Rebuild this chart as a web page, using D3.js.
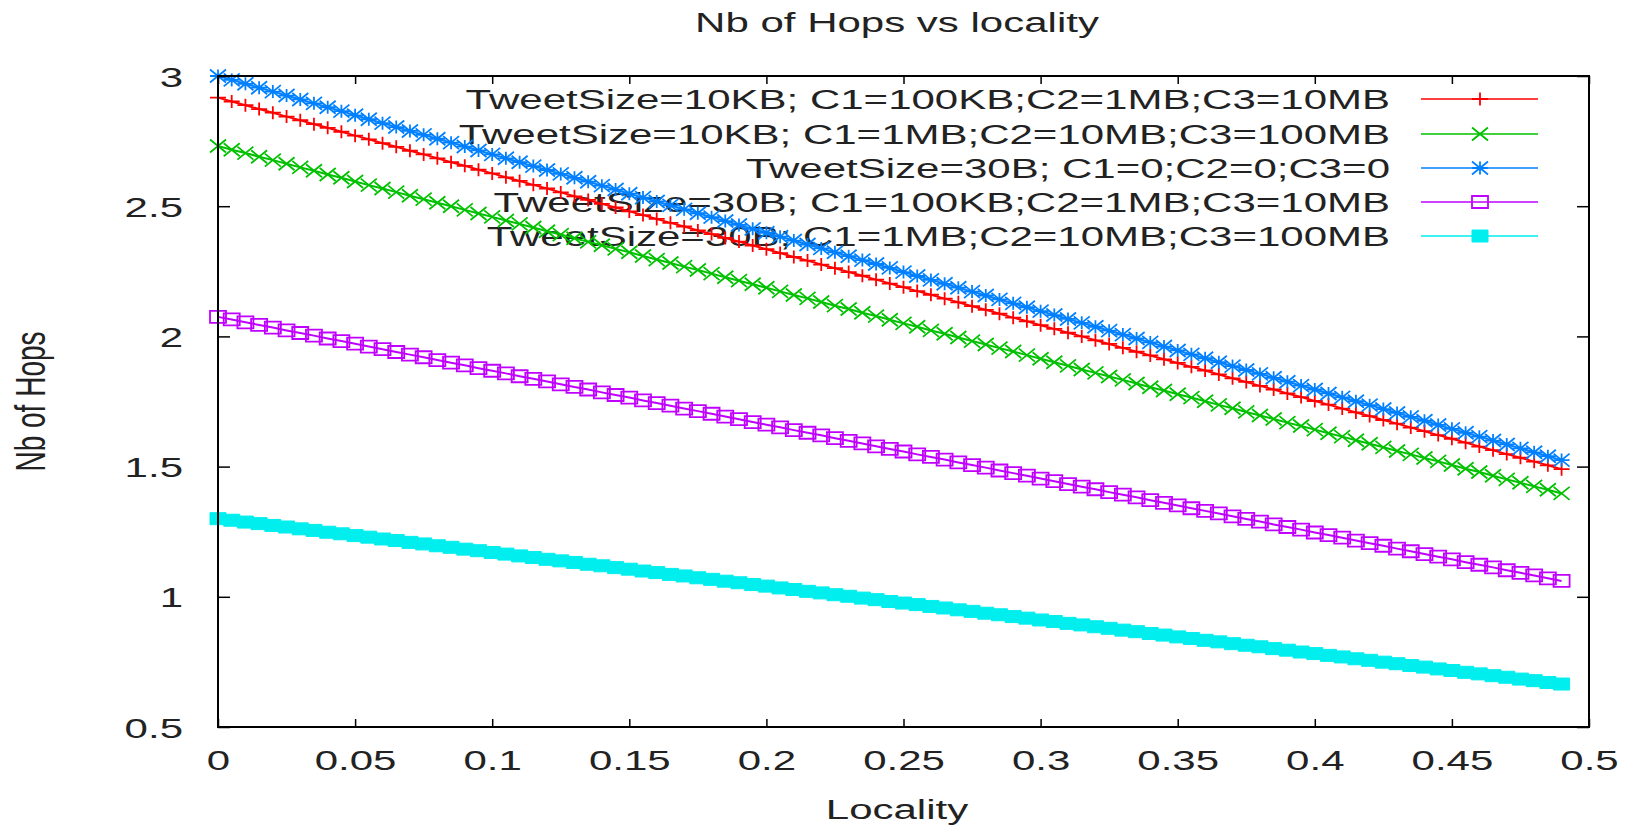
<!DOCTYPE html>
<html lang="en">
<head>
    <meta charset="UTF-8">
    <title>Nb of Hops vs locality</title>
    <style>
        body {
            margin: 0;
            background: #fff;
            font-family: "Liberation Sans", Arial, sans-serif;
        }
        svg text {
            font-size: 28px;
            fill: #222;
        }
    </style>
</head>
<body>
    <div id="chart"></div>

    <script src="https://d3js.org/d3.v7.min.js"></script>
    <script>
        // locality values (x) shared by all series
        const locality = [0,0.005,0.01,0.015,0.02,0.025,0.03,0.035,0.04,0.045,0.05,0.055,0.06,0.065,0.07,0.075,0.08,0.085,0.09,0.095,
            0.1,0.105,0.11,0.115,0.12,0.125,0.13,0.135,0.14,0.145,0.15,0.155,0.16,0.165,0.17,0.175,0.18,0.185,0.19,0.195,
            0.2,0.205,0.21,0.215,0.22,0.225,0.23,0.235,0.24,0.245,0.25,0.255,0.26,0.265,0.27,0.275,0.28,0.285,0.29,0.295,
            0.3,0.305,0.31,0.315,0.32,0.325,0.33,0.335,0.34,0.345,0.35,0.355,0.36,0.365,0.37,0.375,0.38,0.385,0.39,0.395,
            0.4,0.405,0.41,0.415,0.42,0.425,0.43,0.435,0.44,0.445,0.45,0.455,0.46,0.465,0.47,0.475,0.48,0.485,0.49];

        const hops10KB_100KB = [2.917,2.902,2.888,2.873,2.859,2.844,2.830,2.815,2.801,2.786,2.771,2.757,2.742,2.728,2.713,2.699,2.684,2.669,2.655,2.640,
            2.626,2.611,2.597,2.582,2.568,2.553,2.538,2.524,2.509,2.495,2.480,2.466,2.451,2.436,2.422,2.407,2.393,2.378,2.364,2.349,
            2.335,2.320,2.305,2.291,2.276,2.262,2.247,2.233,2.218,2.203,2.189,2.174,2.160,2.145,2.131,2.116,2.102,2.087,2.072,2.058,
            2.043,2.029,2.014,2.000,1.985,1.971,1.956,1.941,1.927,1.912,1.898,1.883,1.869,1.854,1.839,1.825,1.810,1.796,1.781,1.767,
            1.752,1.738,1.723,1.708,1.694,1.679,1.665,1.650,1.636,1.621,1.607,1.592,1.577,1.563,1.548,1.534,1.519,1.505,1.490];

        const hops10KB_1MB = [2.731,2.717,2.704,2.690,2.677,2.663,2.649,2.636,2.622,2.609,2.595,2.581,2.568,2.554,2.540,2.527,2.513,2.500,2.486,2.472,
            2.459,2.445,2.432,2.418,2.404,2.391,2.377,2.363,2.350,2.336,2.323,2.309,2.295,2.282,2.268,2.255,2.241,2.227,2.214,2.200,
            2.187,2.173,2.159,2.146,2.132,2.118,2.105,2.091,2.078,2.064,2.050,2.037,2.023,2.010,1.996,1.982,1.969,1.955,1.942,1.928,
            1.914,1.901,1.887,1.873,1.860,1.846,1.833,1.819,1.805,1.792,1.778,1.765,1.751,1.737,1.724,1.710,1.696,1.683,1.669,1.656,
            1.642,1.628,1.615,1.601,1.588,1.574,1.560,1.547,1.533,1.520,1.506,1.492,1.479,1.465,1.451,1.438,1.424,1.411,1.397];

        const hops30B_0 = [3.000,2.985,2.970,2.955,2.940,2.925,2.910,2.895,2.880,2.865,2.849,2.834,2.819,2.804,2.789,2.774,2.759,2.744,2.729,2.714,
            2.699,2.684,2.669,2.654,2.639,2.624,2.609,2.594,2.579,2.564,2.548,2.533,2.518,2.503,2.488,2.473,2.458,2.443,2.428,2.413,
            2.398,2.383,2.368,2.353,2.338,2.323,2.308,2.293,2.278,2.263,2.247,2.232,2.217,2.202,2.187,2.172,2.157,2.142,2.127,2.112,
            2.097,2.082,2.067,2.052,2.037,2.022,2.007,1.992,1.977,1.961,1.946,1.931,1.916,1.901,1.886,1.871,1.856,1.841,1.826,1.811,
            1.796,1.781,1.766,1.751,1.736,1.721,1.706,1.691,1.676,1.660,1.645,1.630,1.615,1.600,1.585,1.570,1.555,1.540,1.525];

        const hops30B_100KB = [2.075,2.065,2.054,2.044,2.034,2.023,2.013,2.003,1.992,1.982,1.972,1.961,1.951,1.940,1.930,1.920,1.909,1.899,1.889,1.878,
            1.868,1.858,1.847,1.837,1.827,1.816,1.806,1.796,1.785,1.775,1.765,1.754,1.744,1.734,1.723,1.713,1.703,1.692,1.682,1.671,
            1.661,1.651,1.640,1.630,1.620,1.609,1.599,1.589,1.578,1.568,1.558,1.547,1.537,1.527,1.516,1.506,1.496,1.485,1.475,1.465,
            1.454,1.444,1.433,1.423,1.413,1.402,1.392,1.382,1.371,1.361,1.351,1.340,1.330,1.320,1.309,1.299,1.289,1.278,1.268,1.258,
            1.247,1.237,1.227,1.216,1.206,1.196,1.185,1.175,1.164,1.154,1.144,1.133,1.123,1.113,1.102,1.092,1.082,1.071,1.061];

        const hops30B_1MB = [1.300,1.294,1.287,1.281,1.274,1.268,1.261,1.255,1.248,1.242,1.235,1.229,1.222,1.216,1.209,1.203,1.196,1.190,1.183,1.177,
            1.170,1.164,1.157,1.151,1.144,1.138,1.132,1.125,1.119,1.112,1.106,1.099,1.093,1.086,1.080,1.073,1.067,1.060,1.054,1.047,
            1.041,1.034,1.028,1.021,1.015,1.008,1.002,0.995,0.989,0.982,0.976,0.970,0.963,0.957,0.950,0.944,0.937,0.931,0.924,0.918,
            0.911,0.905,0.898,0.892,0.885,0.879,0.872,0.866,0.859,0.853,0.846,0.840,0.833,0.827,0.820,0.814,0.808,0.801,0.795,0.788,
            0.782,0.775,0.769,0.762,0.756,0.749,0.743,0.736,0.730,0.723,0.717,0.710,0.704,0.697,0.691,0.684,0.678,0.671,0.665];

        const seriesLabels = [
            'TweetSize=10KB; C1=100KB;C2=1MB;C3=10MB',
            'TweetSize=10KB; C1=1MB;C2=10MB;C3=100MB',
            'TweetSize=30B; C1=0;C2=0;C3=0',
            'TweetSize=30B; C1=100KB;C2=1MB;C3=10MB',
            'TweetSize=30B; C1=1MB;C2=10MB;C3=100MB'
        ];
        const seriesValues = [hops10KB_100KB, hops10KB_1MB, hops30B_0, hops30B_100KB, hops30B_1MB];
        const seriesColors = ['#ff0000', '#00c000', '#0080ff', '#c000ff', '#00eeee'];
        const seriesMarkers = ['plus', 'cross', 'star', 'box', 'filledbox'];

        const xTicks = [0, 0.05, 0.1, 0.15, 0.2, 0.25, 0.3, 0.35, 0.4, 0.45, 0.5];
        const yTicks = [0.5, 1, 1.5, 2, 2.5, 3];

        // gnuplot output was stretched sideways, so text gets a horizontal scale
        const sx = 1.5;

        const W = 1631, H = 825;
        const plotLeft = 218, plotRight = 1589, plotTop = 76, plotBottom = 727;

        const svg = d3.select('#chart').append('svg')
            .attr('width', W)
            .attr('height', H);

        svg.append('rect').attr('width', W).attr('height', H).attr('fill', '#fff');

        const x = d3.scaleLinear().domain([0, 0.5]).range([plotLeft, plotRight]);
        const y = d3.scaleLinear().domain([0.5, 3]).range([plotBottom, plotTop]);

        // marker path around (cx, cy)
        const hw = 8, hh = 6.5;
        function markerPath(type, cx, cy) {
            const plus = `M${cx - hw},${cy}H${cx + hw}M${cx},${cy - hh}V${cy + hh}`;
            const cross = `M${cx - hw},${cy - hh}L${cx + hw},${cy + hh}M${cx - hw},${cy + hh}L${cx + hw},${cy - hh}`;
            const box = `M${cx - hw},${cy - 6}H${cx + hw}V${cy + 6}H${cx - hw}Z`;
            if (type === 'plus') return plus;
            if (type === 'cross') return cross;
            if (type === 'star') return plus + cross;
            return box;
        }

        function drawMarker(g, type, color, cx, cy) {
            g.append('path')
                .attr('d', markerPath(type, cx, cy))
                .attr('fill', type === 'filledbox' ? color : 'none')
                .attr('stroke', color)
                .attr('stroke-width', type === 'filledbox' ? 1 : 1.8);
        }

        // Key (drawn first so the curves pass over it, like gnuplot)
        const key = svg.append('g');
        const keyRows = [99, 134, 168, 202, 236];
        seriesLabels.forEach((label, i) => {
            key.append('text')
                .attr('transform', `translate(1390,${keyRows[i] + 10}) scale(${sx},1)`)
                .attr('text-anchor', 'end')
                .text(label);
            key.append('line')
                .attr('x1', 1421).attr('x2', 1538)
                .attr('y1', keyRows[i]).attr('y2', keyRows[i])
                .attr('stroke', seriesColors[i])
                .attr('stroke-width', 1.5);
            drawMarker(key, seriesMarkers[i], seriesColors[i], 1480, keyRows[i]);
        });

        // Curves
        const line = d3.line()
            .x((d, i) => x(locality[i]))
            .y(d => y(d));

        seriesValues.forEach((vals, s) => {
            const g = svg.append('g');
            g.append('path')
                .datum(vals)
                .attr('d', line)
                .attr('fill', 'none')
                .attr('stroke', seriesColors[s])
                .attr('stroke-width', 2);
            vals.forEach((v, i) => drawMarker(g, seriesMarkers[s], seriesColors[s], x(locality[i]), y(v)));
        });

        // Axes with inward ticks on all four sides
        const fmt = d => d.toString();

        const xAxis = svg.append('g')
            .attr('transform', `translate(0,${plotBottom})`)
            .call(d3.axisBottom(x).tickValues(xTicks).tickFormat(fmt).tickSize(-8));
        xAxis.selectAll('text')
            .attr('y', 43)
            .attr('dy', null)
            .attr('transform', `scale(${sx},1)`);

        svg.append('g')
            .attr('transform', `translate(0,${plotTop})`)
            .call(d3.axisTop(x).tickValues(xTicks).tickFormat('').tickSize(-8));

        const yAxis = svg.append('g')
            .attr('transform', `translate(${plotLeft},0)`)
            .call(d3.axisLeft(y).tickValues(yTicks).tickFormat(fmt).tickSize(-12));
        yAxis.selectAll('text')
            .attr('x', -35 / sx)
            .attr('y', 10)
            .attr('dy', null)
            .attr('transform', `scale(${sx},1)`);

        svg.append('g')
            .attr('transform', `translate(${plotRight},0)`)
            .call(d3.axisRight(y).tickValues(yTicks).tickFormat('').tickSize(-12));

        svg.selectAll('.domain').remove();
        svg.selectAll('.tick line').attr('stroke', '#000').attr('stroke-width', 1.5);
        svg.selectAll('.tick text')
            .attr('font-family', '"Liberation Sans", Arial, sans-serif')
            .attr('font-size', 28)
            .attr('fill', '#222');

        // Border
        svg.append('rect')
            .attr('x', plotLeft).attr('y', plotTop)
            .attr('width', plotRight - plotLeft).attr('height', plotBottom - plotTop)
            .attr('fill', 'none')
            .attr('stroke', '#000')
            .attr('stroke-width', 2);

        // Titles
        svg.append('text')
            .attr('transform', `translate(897,32) scale(${sx},1)`)
            .attr('text-anchor', 'middle')
            .text('Nb of Hops vs locality');

        svg.append('text')
            .attr('transform', `translate(897,819) scale(${sx},1)`)
            .attr('text-anchor', 'middle')
            .text('Locality');

        svg.append('text')
            .attr('transform', `translate(45,${(plotTop + plotBottom) / 2}) rotate(-90) scale(1,${sx})`)
            .attr('text-anchor', 'middle')
            .text('Nb of Hops');
    </script>
</body>
</html>
